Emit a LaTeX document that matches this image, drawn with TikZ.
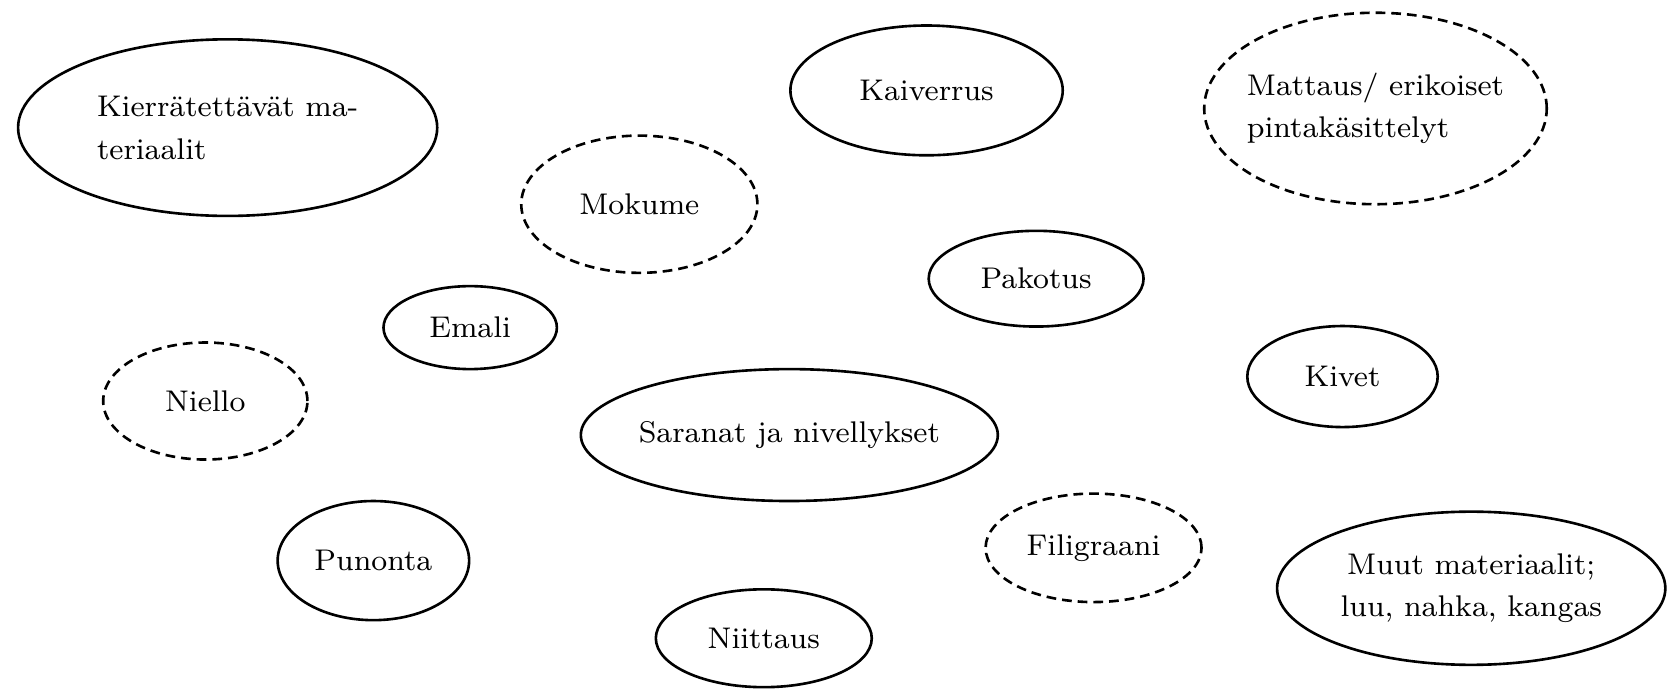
\documentclass[tikz,border=0pt]{standalone}
\usetikzlibrary{shapes.geometric}
\begin{document}
\begin{tikzpicture}[thick,
    every node/.style={font=\fontsize{8}{11.4}\selectfont},
    topic/.style={draw, ellipse, line width=0.7pt, inner sep=0pt},
    maybe/.style={topic, dash pattern=on 2.6pt off 1.6pt}]
    \useasboundingbox (0,0) rectangle (15.68,6.48);

    % Top row
    \node[topic, minimum width=3.94cm, minimum height=1.66cm, align=left] (kierratys) at (2.14, 5.28) {Kierrätettävät ma-\\teriaalit};
    \node[topic, minimum width=2.56cm, minimum height=1.22cm] (kaiverrus) at (8.71, 5.63) {Kaiverrus};
    \node[maybe, minimum width=3.22cm, minimum height=1.80cm, inner xsep=-1mm, align=left] (mattaus) at (12.93, 5.46) {Mattaus/ erikoiset\\pintakäsittelyt};

    % Middle
    \node[maybe, minimum width=2.22cm, minimum height=1.29cm] (mokume) at (6.01, 4.56) {Mokume};
    \node[topic, minimum width=2.02cm, minimum height=0.90cm] (pakotus) at (9.74, 3.86) {Pakotus};
    \node[topic, minimum width=1.63cm, minimum height=0.78cm] (emali) at (4.42, 3.40) {Emali};
    \node[maybe, minimum width=1.92cm, minimum height=1.10cm] (niello) at (1.93, 2.71) {Niello};
    \node[topic, minimum width=1.79cm, minimum height=0.95cm] (kivet) at (12.62, 2.94) {Kivet};
    \node[topic, minimum width=3.92cm, minimum height=1.24cm, inner xsep=-0.5mm] (saranat) at (7.42, 2.39) {Saranat ja nivellykset};

    % Bottom row
    \node[topic, minimum width=1.80cm, minimum height=1.12cm] (punonta) at (3.51, 1.21) {Punonta};
    \node[maybe, minimum width=2.03cm, minimum height=1.02cm] (filigraani) at (10.28, 1.33) {Filigraani};
    \node[topic, minimum width=3.65cm, minimum height=1.44cm, align=center] (muut) at (13.83, 0.95) {Muut materiaalit;\\luu, nahka, kangas};
    \node[topic, minimum width=2.03cm, minimum height=0.92cm] (niittaus) at (7.18, 0.48) {Niittaus};
\end{tikzpicture}
\end{document}
